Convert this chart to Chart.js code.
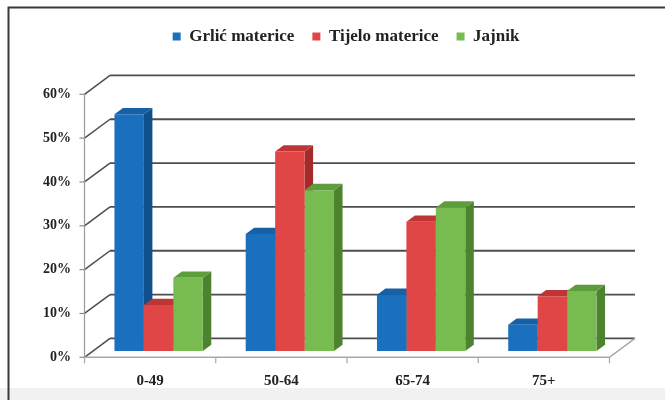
<!DOCTYPE html>
<html><head><meta charset="utf-8">
<script src="https://cdn.jsdelivr.net/npm/chart.js@4.4.1/dist/chart.umd.min.js"></script>
<style>html,body{margin:0;padding:0;background:#fff}#wrap{width:665px;height:400px;position:relative}</style>
</head><body><div id="wrap"><canvas id="c" width="665" height="400"></canvas></div>
<script>
// ---- data ----
const categories = ['0-49', '50-64', '65-74', '75+'];
const seriesNames = ['Grlić materice', 'Tijelo materice', 'Jajnik'];
const grlicMaterice = [54, 26.7, 12.8, 6];
const tijeloMaterice = [10.5, 45.5, 29.5, 12.5];
const jajnik = [16.7, 36.7, 32.7, 13.7];
const yTickValues = [0, 10, 20, 30, 40, 50, 60];

// ---- style ----
const frontColors = ['#1b70bd', '#e04646', '#78bb50'];
const sideColors  = ['#0f4f8c', '#a52a2a', '#4d822e'];
const topColors   = ['#1660a6', '#bd3535', '#5e9d3c'];
const D = {dx: 8.5, dy: -6.3}; // bar depth offset
const serif = 'Liberation Serif, Times New Roman, serif';

const frame = {
  id: 'frame',
  beforeDraw(chart) {
    const ctx = chart.ctx;
    ctx.save();
    ctx.fillStyle = '#ffffff';
    ctx.fillRect(0, 0, 665, 400);
    ctx.fillStyle = '#f1f1f1';
    ctx.fillRect(0, 388, 665, 12);
    ctx.strokeStyle = '#3a3a3a';
    ctx.lineWidth = 2;
    ctx.beginPath();
    ctx.moveTo(8.5, 400); ctx.lineTo(8.5, 7.5); ctx.lineTo(665, 7.5);
    ctx.stroke();
    ctx.restore();
  }
};

const legendGap = {
  id: 'legendGap',
  beforeInit(chart) {
    const fit = chart.legend.fit;
    chart.legend.fit = function () { fit.call(this); this.height += 33; };
  }
};

const threeD = {
  id: 'threeD',
  beforeDatasetsDraw(chart) {
    const {ctx, chartArea: {left, right, top, bottom}, scales: {y}} = chart;
    const dx = D.dx, dy = D.dy;
    ctx.save();
    y.ticks.forEach(t => {
      const py = y.getPixelForValue(t.value);
      ctx.strokeStyle = '#4e4e4e';
      ctx.lineWidth = 1.8;
      ctx.beginPath();
      ctx.moveTo(left + 2 * dx, py + 2 * dy);
      ctx.lineTo(right + 2 * dx, py + 2 * dy);
      ctx.stroke();
      ctx.lineWidth = 1.5;
      ctx.beginPath();
      ctx.moveTo(left - dx, py - dy);
      ctx.lineTo(left + 2 * dx, py + 2 * dy);
      ctx.stroke();
      ctx.strokeStyle = '#8a8a8a';
      ctx.lineWidth = 1.2;
      ctx.beginPath();
      ctx.moveTo(left - dx - 5, py - dy);
      ctx.lineTo(left - dx, py - dy);
      ctx.stroke();
    });
    ctx.strokeStyle = '#9a9a9a';
    ctx.lineWidth = 1.2;
    ctx.beginPath();
    ctx.moveTo(left - dx, top - dy);
    ctx.lineTo(left - dx, bottom - dy);
    ctx.stroke();
    ctx.strokeStyle = '#a8a8a8';
    ctx.lineWidth = 1.5;
    ctx.beginPath();
    ctx.moveTo(left - dx, bottom - dy);
    ctx.lineTo(right - dx, bottom - dy);
    ctx.lineTo(right + 2 * dx, bottom + 2 * dy);
    ctx.stroke();
    const n = categories.length;
    ctx.lineWidth = 1.2;
    for (let i = 0; i <= n; i++) {
      const xx = left - dx + i * (right - left) / n;
      ctx.beginPath();
      ctx.moveTo(xx, bottom - dy);
      ctx.lineTo(xx, bottom - dy + 6);
      ctx.stroke();
    }
    for (let j = 0; j < n; j++) {
      chart.data.datasets.forEach((ds, i) => {
        const el = chart.getDatasetMeta(i).data[j];
        const p = el.getProps(['x', 'y', 'base', 'width'], true);
        const L = p.x - p.width / 2, R = p.x + p.width / 2;
        ctx.fillStyle = sideColors[i];
        ctx.beginPath();
        ctx.moveTo(R, p.y); ctx.lineTo(R + dx, p.y + dy);
        ctx.lineTo(R + dx, p.base + dy); ctx.lineTo(R, p.base);
        ctx.closePath(); ctx.fill();
        ctx.fillStyle = topColors[i];
        ctx.beginPath();
        ctx.moveTo(L, p.y); ctx.lineTo(L + dx, p.y + dy);
        ctx.lineTo(R + dx, p.y + dy); ctx.lineTo(R, p.y);
        ctx.closePath(); ctx.fill();
      });
    }
    ctx.restore();
  }
};

new Chart(document.getElementById('c'), {
  type: 'bar',
  data: {
    labels: categories,
    datasets: [
      {label: seriesNames[0], data: grlicMaterice, backgroundColor: frontColors[0]},
      {label: seriesNames[1], data: tijeloMaterice, backgroundColor: frontColors[1]},
      {label: seriesNames[2], data: jajnik, backgroundColor: frontColors[2]}
    ]
  },
  options: {
    responsive: false,
    devicePixelRatio: 1,
    animation: false,
    events: [],
    layout: {padding: {left: 35, right: 8, top: 10, bottom: 0}},
    datasets: {bar: {categoryPercentage: 0.673, barPercentage: 1, borderWidth: 0}},
    plugins: {
      legend: {
        position: 'top',
        labels: {
          color: '#222',
          font: {family: serif, weight: 'bold', size: 17},
          boxWidth: 8, boxHeight: 8, padding: 18
        }
      },
      tooltip: {enabled: false}
    },
    scales: {
      x: {
        grid: {display: false, drawTicks: false},
        border: {display: false},
        ticks: {color: '#222', font: {family: serif, weight: 'bold', size: 15}, labelOffset: -8.5, padding: 21, maxRotation: 0},
        afterFit(s) { s.height = 49; }
      },
      y: {
        min: 0, max: 60,
        grid: {display: false, drawTicks: false},
        border: {display: false},
        afterBuildTicks(s) { s.ticks = yTickValues.map(v => ({value: v})); },
        ticks: {color: '#222', font: {family: serif, weight: 'bold', size: 14}, labelOffset: 6.3, padding: 22, callback: v => v + '%'},
        afterFit(s) { s.width = 58; }
      },
      y2: {
        position: 'right',
        min: 0, max: 60,
        grid: {display: false, drawTicks: false},
        border: {display: false},
        ticks: {display: false},
        afterFit(s) { s.width = 39; }
      }
    }
  },
  plugins: [frame, legendGap, threeD]
});
</script>
</body></html>
